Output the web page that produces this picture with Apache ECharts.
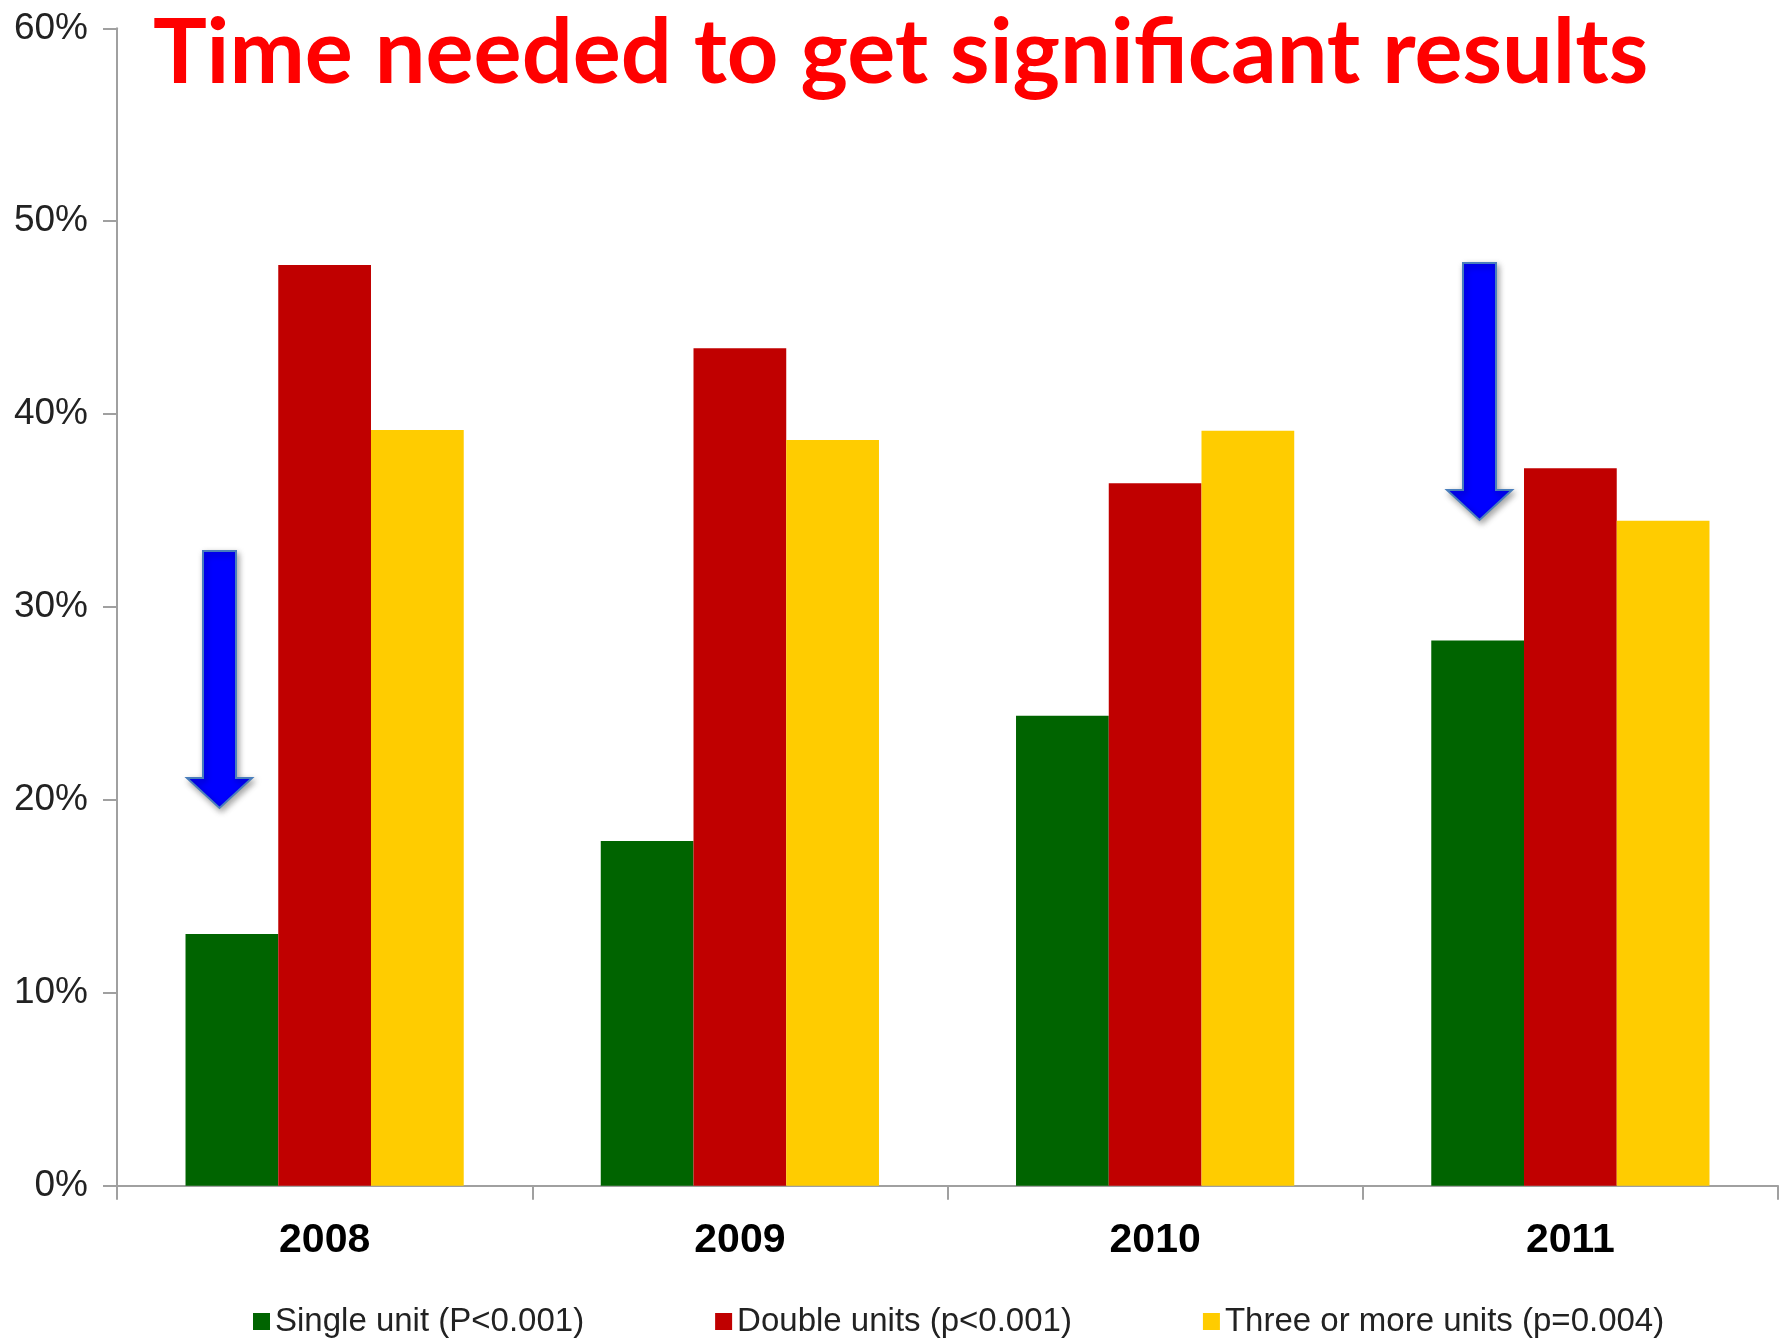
<!DOCTYPE html>
<html>
<head>
<meta charset="utf-8">
<script src="https://cdn.jsdelivr.net/npm/echarts@6/dist/echarts.min.js"></script>
<style>
html,body{margin:0;padding:0;background:#fff;}
#chart{width:1787px;height:1338px;}
</style>
</head>
<body>
<div id="chart"></div>
<script>
const categories = ['2008', '2009', '2010', '2011'];
const singleUnit = [13.05, 17.87, 24.36, 28.26];
const doubleUnits = [47.73, 43.41, 36.41, 37.19];
const threeOrMore = [39.18, 38.66, 39.14, 34.47];
const seriesNames = ['Single unit (P<0.001)', 'Double units (p<0.001)', 'Three or more units (p=0.004)'];
const yTicks = [0, 10, 20, 30, 40, 50, 60];
const titleText = 'Time needed to get significant results';

const chart = echarts.init(document.getElementById('chart'), null, {renderer: 'canvas'});

function arrow(cx, top, headStart, tip) {
  const sw = 16.5, hw = 32.5;
  return {
    type: 'polygon',
    z: 100,
    shape: {points: [
      [cx - sw, top], [cx + sw, top], [cx + sw, headStart], [cx + hw, headStart],
      [cx, tip], [cx - hw, headStart], [cx - sw, headStart]
    ]},
    style: {fill: '#0000ff', stroke: '#4a7ebb', lineWidth: 2,
      shadowBlur: 6, shadowColor: 'rgba(0,0,0,0.35)', shadowOffsetX: 2, shadowOffsetY: 3}
  };
}

const option = {
  animation: false,
  backgroundColor: '#ffffff',
  title: {
    text: titleText,
    left: 153,
    top: 9,
    padding: 0,
    textStyle: {color: '#ff0000', fontFamily: 'Lato', fontWeight: 'bold', fontSize: 90}
  },
  legend: {
    data: seriesNames,
    left: 253,
    top: 1305,
    padding: 0,
    icon: 'rect',
    itemWidth: 17,
    itemHeight: 17,
    itemGap: 131,
    textStyle: {fontFamily: 'Liberation Sans', fontSize: 33, color: '#222'}
  },
  grid: {left: 117, right: 9, top: 28.3, bottom: 152.3, containLabel: false},
  xAxis: {
    type: 'category',
    data: categories,
    axisLine: {lineStyle: {color: '#a0a0a0', width: 2}},
    axisTick: {show: true, length: 14, lineStyle: {color: '#a0a0a0', width: 2}},
    axisLabel: {fontFamily: 'Liberation Sans', fontWeight: 'bold', fontSize: 41, color: '#000', margin: 34}
  },
  yAxis: {
    type: 'value',
    min: 0, max: 60, interval: 10,
    axisLine: {show: true, lineStyle: {color: '#a0a0a0', width: 2}},
    axisTick: {show: true, length: 14, lineStyle: {color: '#a0a0a0', width: 2}},
    splitLine: {show: false},
    axisLabel: {fontFamily: 'Liberation Sans', fontSize: 37, color: '#222', margin: 29,
      formatter: function (v) { return yTicks.indexOf(v) >= 0 ? v + '%' : ''; }}
  },
  series: [
    {name: seriesNames[0], type: 'bar', data: singleUnit, itemStyle: {color: '#006400'}, barGap: '0%', barCategoryGap: '33%'},
    {name: seriesNames[1], type: 'bar', data: doubleUnits, itemStyle: {color: '#c00000'}, barGap: '0%', barCategoryGap: '33%'},
    {name: seriesNames[2], type: 'bar', data: threeOrMore, itemStyle: {color: '#ffcc00'}, barGap: '0%', barCategoryGap: '33%'}
  ],
  graphic: [
    arrow(219.5, 551, 778, 808),
    arrow(1479.5, 263, 490, 520)
  ]
};
chart.setOption(option);
</script>
</body>
</html>
